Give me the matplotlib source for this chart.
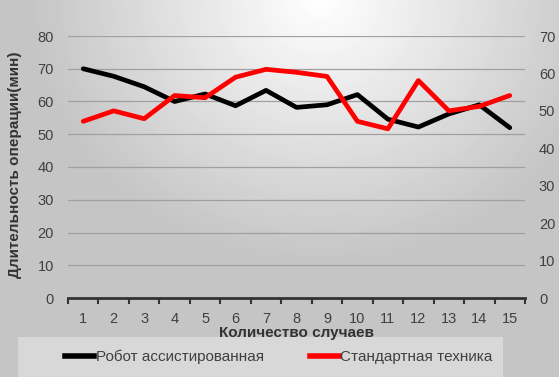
import numpy as np
import matplotlib
matplotlib.use("Agg")
from matplotlib import pyplot as plt
from matplotlib.patches import Rectangle

plt.rcParams['font.family'] = ['Liberation Sans', 'DejaVu Sans']

cases = list(range(1, 16))
robot = [70, 67.7, 64.5, 60, 62.3, 58.7, 63.4, 58.2, 59, 62.1, 54.6, 52.2, 56.2, 59, 52]
standard = [47.2, 50, 47.9, 54.1, 53.5, 59, 61.1, 60.3, 59.2, 47.2, 45.2, 58.1, 50, 51.2, 54.1]
left_ticks = list(range(0, 90, 10))
right_ticks = list(range(0, 80, 10))

label_robot = "Робот ассистированная"
label_standard = "Стандартная техника"
xlabel = "Количество случаев"
ylabel = "Длительность операции(мин)"

fig = plt.figure(figsize=(5.59, 3.77), dpi=100)

# gray gradient background, lighter near the top middle
bg = fig.add_axes([0, 0, 1, 1], zorder=-10)
yy, xx = np.mgrid[0:377, 0:559]
dist = np.sqrt(((xx - 320) / 330.0) ** 2 + (yy / 300.0) ** 2)
shade = np.clip(1.0 - 0.26 * dist, 0.77, 1.0)
bg.imshow(shade, cmap='gray', vmin=0, vmax=1, aspect='auto', interpolation='bilinear')
bg.axis('off')

ax = fig.add_axes([68 / 559, 1 - 298 / 377, (525 - 68) / 559, (298 - 36) / 377])
ax.patch.set_alpha(0)
ax2 = ax.twinx()

ax.plot(cases, robot, color='black', lw=3.4, solid_capstyle='round',
        solid_joinstyle='round', zorder=3)
ax2.plot(cases, standard, color='#ff0000', lw=3.4, solid_capstyle='round',
         solid_joinstyle='round', zorder=3)

ax.set_xlim(0.5, 15.5)
ax.set_ylim(0, 80)
ax2.set_ylim(0, 70)
ax.set_yticks(left_ticks)
ax2.set_yticks(right_ticks)
ax.set_xticks(cases)
ax.set_xticks(np.arange(0.5, 16, 1), minor=True)
ax.tick_params(axis='x', which='major', length=0, pad=10, labelsize=10.5, labelcolor='#404040')
ax.tick_params(axis='x', which='minor', length=4, width=1.5, color='#333333', direction='out')
ax.tick_params(axis='y', length=0, pad=10, labelsize=10.5, labelcolor='#404040')
ax2.tick_params(axis='y', length=0, pad=10, labelsize=10.5, labelcolor='#404040')

ax.grid(axis='y', color='#a0a0a0', lw=0.9)
ax.set_axisbelow(True)
for sp in ['top', 'left', 'right']:
    ax.spines[sp].set_visible(False)
    ax2.spines[sp].set_visible(False)
ax2.spines['bottom'].set_visible(False)
ax.spines['bottom'].set_color('#333333')
ax.spines['bottom'].set_linewidth(2)

ax.set_xlabel(xlabel, fontsize=11, fontweight='bold', color='#333333', labelpad=0)
fig.text(15 / 559, 1 - 165 / 377, ylabel, rotation=90, fontsize=11, fontweight='bold',
         color='#333333', ha='center', va='center')

# legend area
fig.patches.append(Rectangle((18 / 559, 0), (503 - 18) / 559, (377 - 337) / 377,
                             transform=fig.transFigure, facecolor='#d8d8d8',
                             edgecolor='none', zorder=-5))
h1, = ax.plot([], [], color='black', lw=4)
h2, = ax.plot([], [], color='#ff0000', lw=4)
fig.legend([h1, h2], [label_robot, label_standard], loc='center', ncol=2,
           bbox_to_anchor=(279 / 559, 1 - 357 / 377), frameon=False,
           fontsize=11, handlelength=1.9, handletextpad=0.1, columnspacing=3.0,
           labelcolor='#404040')

fig.savefig('out.png', dpi=100)
